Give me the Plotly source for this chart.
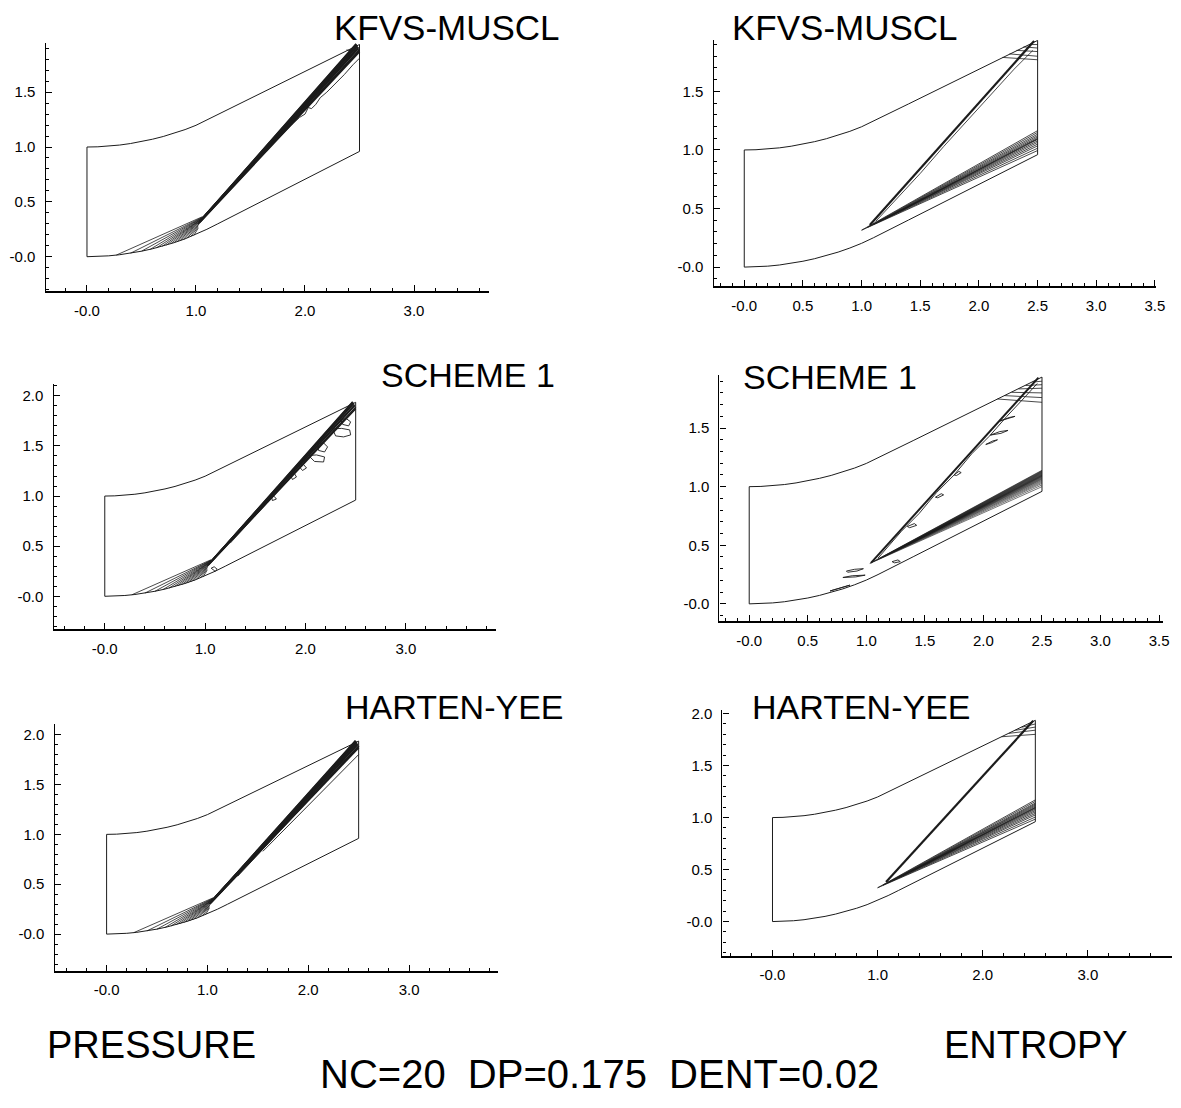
import plotly.graph_objects as go

WIDTH, HEIGHT = 1181, 1108

# ---------------- channel geometry (shared) ----------------
WALL_X       = [0.0, 0.1, 0.2, 0.3, 0.4, 0.5, 0.6, 0.7, 0.8, 0.9, 1.0, 1.1, 1.2, 1.3, 1.4, 2.5]
WALL_LOWER_Y = [0.0, 0.002, 0.008, 0.018, 0.032, 0.05, 0.072, 0.098, 0.128, 0.163, 0.203,
                0.25, 0.30, 0.351, 0.402, 0.96]
WALL_UPPER_Y = [1.0, 1.002, 1.008, 1.018, 1.032, 1.05, 1.071, 1.096, 1.125, 1.159, 1.198,
                1.244, 1.293, 1.343, 1.393, 1.935]

# ---------------- tick labels ----------------
X_TICKS_WIDE = [0.0, 1.0, 2.0, 3.0]
X_TEXT_WIDE = ["-0.0", "1.0", "2.0", "3.0"]
X_TICKS_FINE = [0.0, 0.5, 1.0, 1.5, 2.0, 2.5, 3.0, 3.5]
X_TEXT_FINE = ["-0.0", "0.5", "1.0", "1.5", "2.0", "2.5", "3.0", "3.5"]
Y_TICKS = [0.0, 0.5, 1.0, 1.5, 2.0]
Y_TEXT = ["-0.0", "0.5", "1.0", "1.5", "2.0"]

# ---------------- pressure: compression fan + shock (shared by 3 schemes) ----------------
FAN_X0 = [0.27, 0.40, 0.50, 0.58, 0.64, 0.69, 0.73, 0.77, 0.80, 0.83, 0.86, 0.89, 0.92, 0.95, 0.98]
FAN_Y0 = [0.015, 0.032, 0.05, 0.067, 0.082, 0.095, 0.106, 0.119, 0.128, 0.138, 0.149, 0.159, 0.17,
          0.182, 0.194]
FAN_X1 = [1.06, 1.06, 1.055, 1.05, 1.05, 1.045, 1.04, 1.04, 1.035, 1.03, 1.03, 1.025, 1.02, 1.02, 1.02]
FAN_Y1 = [0.365, 0.36, 0.355, 0.35, 0.345, 0.34, 0.335, 0.33, 0.32, 0.31, 0.30, 0.29, 0.28, 0.27, 0.26]

SHOCK_X0 = [1.02, 1.03, 1.04, 1.05, 1.06, 1.07, 1.08, 1.09]
SHOCK_Y0 = [0.30, 0.31, 0.325, 0.34, 0.35, 0.36, 0.37, 0.38]
SHOCK_X1 = [2.50, 2.50, 2.49, 2.49, 2.48, 2.48, 2.47, 2.47]
SHOCK_Y1 = [1.87, 1.885, 1.90, 1.91, 1.92, 1.93, 1.935, 1.94]

# KFVS-MUSCL pressure: wavy contour behind the shock
KP_WIG_X = [1.60, 1.75, 1.88, 1.95, 2.00, 2.03, 2.06, 2.10, 2.14, 2.20, 2.28, 2.36, 2.44, 2.50]
KP_WIG_Y = [0.92, 1.075, 1.205, 1.27, 1.30, 1.36, 1.35, 1.39, 1.45, 1.50, 1.58, 1.66, 1.75, 1.81]
KP_CORNER_X = [2.38, 2.44, 2.50]
KP_CORNER_Y = [1.885, 1.875, 1.895]

# Scheme 1 pressure: downstream contour and small closed loops
S1P_LINE_X = [1.25, 1.60, 1.90, 2.20, 2.50]
S1P_LINE_Y = [0.53, 0.91, 1.24, 1.57, 1.87]
S1P_LOOPS_X = [
    [2.35, 2.41, 2.45, 2.43, 2.37, 2.35],
    [2.27, 2.36, 2.44, 2.45, 2.38, 2.30, 2.27],
    [2.12, 2.18, 2.22, 2.19, 2.13, 2.12],
    [2.03, 2.11, 2.19, 2.18, 2.09, 2.03],
    [1.92, 1.98, 2.01, 1.97, 1.92],
    [1.84, 1.89, 1.91, 1.87, 1.84],
    [1.66, 1.69, 1.71, 1.67, 1.66],
    [1.06, 1.09, 1.12, 1.10, 1.06],
]
S1P_LOOPS_Y = [
    [1.765, 1.77, 1.74, 1.70, 1.715, 1.765],
    [1.67, 1.675, 1.66, 1.61, 1.59, 1.60, 1.67],
    [1.525, 1.53, 1.49, 1.44, 1.455, 1.525],
    [1.405, 1.41, 1.39, 1.34, 1.345, 1.405],
    [1.315, 1.315, 1.28, 1.255, 1.315],
    [1.235, 1.225, 1.19, 1.165, 1.235],
    [1.00, 0.995, 0.97, 0.955, 1.00],
    [0.28, 0.295, 0.27, 0.25, 0.28],
]

# Harten-Yee pressure: two thin contours splitting off the shock
HYP_X0 = [1.30, 1.55]
HYP_Y0 = [0.58, 0.83]
HYP_X1 = [2.50, 2.50]
HYP_Y1 = [1.88, 1.80]

# ---------------- entropy ----------------
# KFVS-MUSCL
KE_SHOCK_X = [1.07, 2.47]
KE_SHOCK_Y = [0.36, 1.93]
KE_SHOCK2_X = [1.12, 1.35, 1.50, 1.70, 1.90, 2.10, 2.30, 2.46]
KE_SHOCK2_Y = [0.39, 0.64, 0.80, 1.03, 1.25, 1.47, 1.69, 1.85]
KE_BAND_TIP_X = [1.00, 1.05, 1.10, 1.15, 1.20, 1.26, 1.32]
KE_BAND_TIP_Y = [0.315, 0.34, 0.365, 0.39, 0.415, 0.445, 0.475]
KE_BAND_LO = [0.995, 1.015, 1.035, 1.05, 1.065, 1.078, 1.09]
KE_BAND_HI = [1.165, 1.15, 1.135, 1.122, 1.11, 1.10, 1.095]
KE_CORNER_X0 = [2.20, 2.26, 2.32, 2.38, 2.43]
KE_CORNER_Y0 = [1.79, 1.82, 1.85, 1.88, 1.90]
KE_CORNER_X1 = [2.50, 2.50, 2.50, 2.50, 2.50]
KE_CORNER_Y1 = [1.77, 1.80, 1.84, 1.87, 1.90]

# Scheme 1
S1E_SHOCK_X = [1.04, 2.47]
S1E_SHOCK_Y = [0.35, 1.93]
S1E_JAG_X = [1.10, 1.30, 1.45, 1.60, 1.75, 1.90, 2.05, 2.20, 2.35, 2.46]
S1E_JAG_Y = [0.39, 0.62, 0.77, 0.95, 1.10, 1.28, 1.43, 1.60, 1.76, 1.88]
S1E_BAND_TIP_X = [1.03, 1.06, 1.09, 1.12, 1.15, 1.18, 1.21, 1.24, 1.27, 1.30, 1.33, 1.36, 1.39]
S1E_BAND_TIP_Y = [0.345, 0.36, 0.375, 0.39, 0.405, 0.42, 0.435, 0.45, 0.465, 0.48, 0.495, 0.51, 0.525]
S1E_BAND_LO = [1.00, 1.015, 1.028, 1.038, 1.047, 1.055, 1.062, 1.068, 1.073, 1.078, 1.083, 1.087, 1.09]
S1E_BAND_HI = [1.14, 1.136, 1.132, 1.128, 1.124, 1.12, 1.116, 1.112, 1.108, 1.104, 1.10, 1.097, 1.094]
S1E_BLOB_X = [
    [0.83, 0.90, 0.975, 0.92, 0.84, 0.83],
    [0.80, 0.88, 0.99, 0.91, 0.80],
    [1.22, 1.27, 1.29, 1.24, 1.22],
    [0.69, 0.76, 0.86, 0.79, 0.69],
    [1.35, 1.41, 1.43, 1.37, 1.35],
    [1.59, 1.64, 1.66, 1.61, 1.59],
    [1.75, 1.79, 1.81, 1.77, 1.75],
    [2.06, 2.14, 2.21, 2.15, 2.06],
    [2.14, 2.22, 2.27, 2.19, 2.14],
    [2.02, 2.08, 2.12, 2.07, 2.02],
]
S1E_BLOB_Y = [
    [0.28, 0.295, 0.30, 0.28, 0.27, 0.28],
    [0.225, 0.24, 0.245, 0.23, 0.225],
    [0.36, 0.375, 0.36, 0.35, 0.36],
    [0.11, 0.13, 0.16, 0.135, 0.11],
    [0.66, 0.685, 0.67, 0.65, 0.66],
    [0.91, 0.94, 0.93, 0.905, 0.91],
    [1.10, 1.13, 1.12, 1.095, 1.10],
    [1.44, 1.47, 1.48, 1.455, 1.44],
    [1.56, 1.59, 1.60, 1.575, 1.56],
    [1.36, 1.39, 1.40, 1.375, 1.36],
]
S1E_CORNER_X0 = [2.12, 2.18, 2.24, 2.30, 2.36, 2.42]
S1E_CORNER_Y0 = [1.748, 1.777, 1.805, 1.834, 1.863, 1.892]
S1E_CORNER_X1 = [2.50, 2.50, 2.50, 2.50, 2.50, 2.50]
S1E_CORNER_Y1 = [1.72, 1.76, 1.80, 1.84, 1.87, 1.90]

# Harten-Yee
HYE_SHOCK_X = [1.08, 2.48]
HYE_SHOCK_Y = [0.38, 1.93]
HYE_BAND_TIP_X = [1.00, 1.05, 1.10, 1.15, 1.20, 1.26, 1.32, 1.38]
HYE_BAND_TIP_Y = [0.325, 0.35, 0.375, 0.40, 0.425, 0.455, 0.485, 0.515]
HYE_BAND_LO = [0.985, 1.005, 1.025, 1.04, 1.055, 1.068, 1.08, 1.09]
HYE_BAND_HI = [1.17, 1.155, 1.14, 1.13, 1.12, 1.11, 1.10, 1.095]
HYE_CORNER_X0 = [2.18, 2.25, 2.31, 2.37]
HYE_CORNER_Y0 = [1.777, 1.81, 1.839, 1.868]
HYE_CORNER_X1 = [2.50, 2.50, 2.50, 2.50]
HYE_CORNER_Y1 = [1.80, 1.84, 1.87, 1.90]

# ---------------- texts ----------------
PANEL_TITLES = ["KFVS-MUSCL", "KFVS-MUSCL", "SCHEME 1", "SCHEME 1", "HARTEN-YEE", "HARTEN-YEE"]
COLUMN_LABELS = ["PRESSURE", "ENTROPY"]
RUN_LABEL = "NC=20\u00a0\u00a0DP=0.175\u00a0\u00a0DENT=0.02"

# ---------------- helpers ----------------
INK = "#1c1c1c"


def segs(x0, y0, x1, y1):
    xs, ys = [], []
    for a, b, c, d in zip(x0, y0, x1, y1):
        xs += [a, c, None]
        ys += [b, d, None]
    return xs, ys


def polys(xl, yl):
    xs, ys = [], []
    for px, py in zip(xl, yl):
        xs += list(px) + [None]
        ys += list(py) + [None]
    return xs, ys


def wedges(tx, ty, lo, hi):
    xr = WALL_X[-1]
    xs, ys = [], []
    for a, b, l, h in zip(tx, ty, lo, hi):
        xs += [xr, a, xr, None]
        ys += [l, b, h, None]
    return xs, ys


fig = go.Figure()


def add(i, xs, ys, width=0.9, color=INK):
    sfx = "" if i == 1 else str(i)
    fig.add_trace(go.Scatter(x=xs, y=ys, mode="lines", xaxis="x" + sfx, yaxis="y" + sfx,
                             line=dict(color=color, width=width), hoverinfo="skip",
                             showlegend=False, connectgaps=False))


def outline(i):
    xs = WALL_X + WALL_X[::-1] + [WALL_X[0]]
    ys = WALL_LOWER_Y + WALL_UPPER_Y[::-1] + [WALL_LOWER_Y[0]]
    add(i, xs, ys, width=1.0)


# --- panel 1: KFVS pressure
outline(1)
add(1, *segs(FAN_X0, FAN_Y0, FAN_X1, FAN_Y1), width=0.8)
add(1, *segs(SHOCK_X0, SHOCK_Y0, SHOCK_X1, SHOCK_Y1), width=1.9)
add(1, KP_WIG_X, KP_WIG_Y, width=0.9)
add(1, KP_CORNER_X, KP_CORNER_Y, width=0.9)

# --- panel 2: KFVS entropy
outline(2)
add(2, KE_SHOCK_X, KE_SHOCK_Y, width=2.2)
add(2, KE_SHOCK2_X, KE_SHOCK2_Y, width=0.8)
add(2, *wedges(KE_BAND_TIP_X, KE_BAND_TIP_Y, KE_BAND_LO, KE_BAND_HI), width=0.8)
add(2, *segs(KE_CORNER_X0, KE_CORNER_Y0, KE_CORNER_X1, KE_CORNER_Y1), width=0.8)

# --- panel 3: Scheme 1 pressure
outline(3)
add(3, *segs(FAN_X0, FAN_Y0, FAN_X1, FAN_Y1), width=0.8)
add(3, *segs(SHOCK_X0, SHOCK_Y0, SHOCK_X1, SHOCK_Y1), width=1.5)
add(3, S1P_LINE_X, S1P_LINE_Y, width=0.8)
add(3, *polys(S1P_LOOPS_X, S1P_LOOPS_Y), width=0.9)

# --- panel 4: Scheme 1 entropy
outline(4)
add(4, S1E_SHOCK_X, S1E_SHOCK_Y, width=2.0)
add(4, S1E_JAG_X, S1E_JAG_Y, width=0.9)
add(4, *wedges(S1E_BAND_TIP_X, S1E_BAND_TIP_Y, S1E_BAND_LO, S1E_BAND_HI), width=0.6)
add(4, *polys(S1E_BLOB_X, S1E_BLOB_Y), width=0.9)
add(4, *segs(S1E_CORNER_X0, S1E_CORNER_Y0, S1E_CORNER_X1, S1E_CORNER_Y1), width=0.8)

# --- panel 5: Harten-Yee pressure
outline(5)
add(5, *segs(FAN_X0, FAN_Y0, FAN_X1, FAN_Y1), width=0.8)
add(5, *segs(SHOCK_X0, SHOCK_Y0, SHOCK_X1, SHOCK_Y1), width=1.9)
add(5, *segs(HYP_X0, HYP_Y0, HYP_X1, HYP_Y1), width=0.9)

# --- panel 6: Harten-Yee entropy
outline(6)
add(6, HYE_SHOCK_X, HYE_SHOCK_Y, width=2.2)
add(6, *wedges(HYE_BAND_TIP_X, HYE_BAND_TIP_Y, HYE_BAND_LO, HYE_BAND_HI), width=0.8)
add(6, *segs(HYE_CORNER_X0, HYE_CORNER_Y0, HYE_CORNER_X1, HYE_CORNER_Y1), width=0.8)

# ---------------- axes layout (pixel boxes) ----------------
# (left, right, top, bottom) in px, x range, y range, x ticks kind
PANELS = [
    ((46, 493, 38, 287), (-0.379, 3.69), (-0.31, 1.95), "wide"),
    ((719, 1165, 35, 282), (-0.262, 3.51), (-0.159, 1.94), "fine"),
    ((54, 500, 381, 627), (-0.51, 3.90), (-0.328, 2.115), "wide"),
    ((725, 1172, 372, 619), (-0.254, 3.534), (-0.148, 1.95), "fine"),
    ((55, 502, 722, 970), (-0.516, 3.884), (-0.366, 2.109), "wide"),
    ((728, 1181, 708, 955), (-0.476, 3.80), (-0.328, 2.036), "wide"),
]

TICKFONT = dict(family="Liberation Sans, Arial, sans-serif", size=15, color="black")
layout_axes = {}
for k, (box, xr, yr, kind) in enumerate(PANELS, start=1):
    l, r, t, b = box
    sfx = "" if k == 1 else str(k)
    tv, tt, mdt = (X_TICKS_WIDE, X_TEXT_WIDE, 0.2) if kind == "wide" else (X_TICKS_FINE, X_TEXT_FINE, 0.1)
    layout_axes["xaxis" + sfx] = dict(
        domain=[l / WIDTH, min(r / WIDTH, 1.0)], range=list(xr), anchor="y" + sfx,
        showline=True, linecolor="black", linewidth=1.6, showgrid=False, zeroline=False,
        ticks="inside", ticklen=6, tickwidth=1.3, tickcolor="black",
        tickmode="array", tickvals=tv, ticktext=tt, tickfont=TICKFONT, ticklabelstandoff=5,
        minor=dict(ticks="inside", ticklen=3, tickwidth=1, tickcolor="black",
                   tickmode="linear", tick0=0, dtick=mdt, showgrid=False),
        fixedrange=True)
    layout_axes["yaxis" + sfx] = dict(
        domain=[1 - b / HEIGHT, 1 - t / HEIGHT], range=list(yr), anchor="x" + sfx,
        showline=True, linecolor="black", linewidth=1.4, showgrid=False, zeroline=False,
        ticks="inside", ticklen=6, tickwidth=1.3, tickcolor="black",
        tickmode="array", tickvals=Y_TICKS, ticktext=Y_TEXT, tickfont=TICKFONT, ticklabelstandoff=6,
        minor=dict(ticks="inside", ticklen=3, tickwidth=1, tickcolor="black",
                   tickmode="linear", tick0=0, dtick=0.1, showgrid=False),
        fixedrange=True)

TITLE_POS = [(450, 23), (851, 23), (472, 372), (836, 374), (458, 705), (868, 705)]
TITLE_SIZE = [35, 35, 34, 34, 34, 34]

annotations = []
for text, (px, py), sz in zip(PANEL_TITLES, TITLE_POS, TITLE_SIZE):
    annotations.append(dict(text=text, x=px / WIDTH, y=1 - py / HEIGHT, xref="paper", yref="paper",
                            xanchor="center", yanchor="middle", showarrow=False,
                            font=dict(family="Liberation Sans, Arial, sans-serif", size=sz, color="black")))
for text, (px, py) in zip(COLUMN_LABELS, [(153, 1045), (1044, 1045)]):
    annotations.append(dict(text=text, x=px / WIDTH, y=1 - py / HEIGHT, xref="paper", yref="paper",
                            xanchor="center", yanchor="middle", showarrow=False,
                            font=dict(family="Liberation Sans, Arial, sans-serif", size=38, color="black")))
annotations.append(dict(text=RUN_LABEL, x=604 / WIDTH, y=1 - 1074 / HEIGHT, xref="paper", yref="paper",
                        xanchor="center", yanchor="middle", showarrow=False,
                        font=dict(family="Liberation Sans, Arial, sans-serif", size=40, color="black")))

fig.update_layout(width=WIDTH, height=HEIGHT, margin=dict(l=0, r=0, t=0, b=0),
                  paper_bgcolor="white", plot_bgcolor="white", showlegend=False,
                  annotations=annotations, **layout_axes)

fig.write_html("out.html", config={"displayModeBar": False})
